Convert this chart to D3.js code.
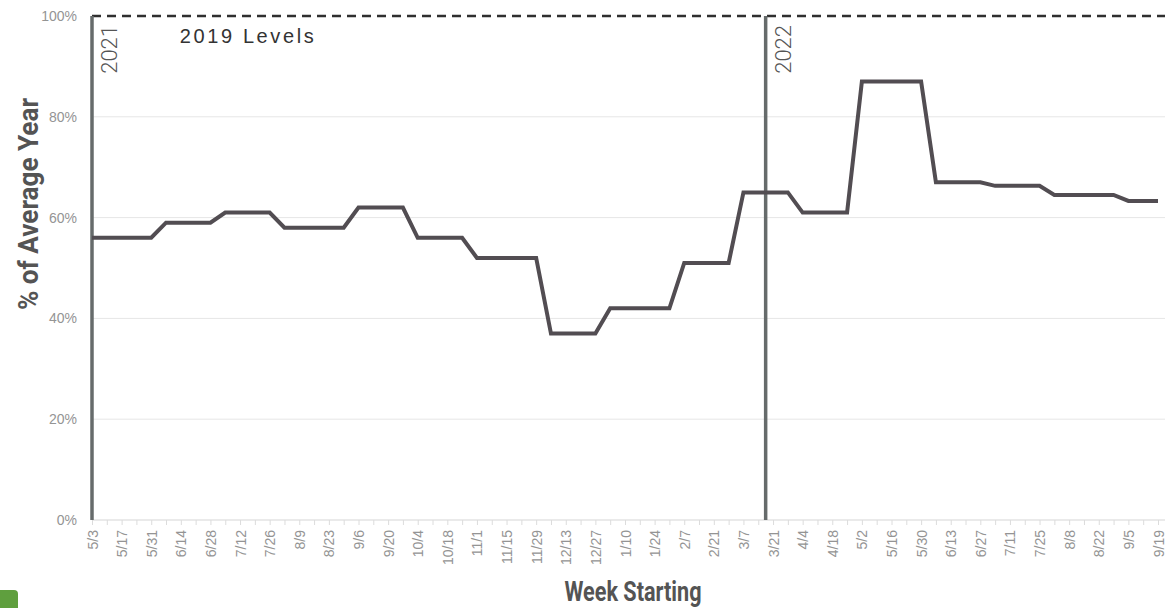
<!DOCTYPE html>
<html>
<head>
<meta charset="utf-8">
<script src="https://cdn.jsdelivr.net/npm/d3@7"></script>
<style>
  body { margin: 0; background: #fff; }
  svg { display: block; }
  .tick text { font-family: "Liberation Sans", Arial, sans-serif; fill: #949494; }
</style>
</head>
<body>
<div class="chart"></div>
<script>
// week starting dates (Mondays)
const weeks = [
  '2021-05-03','2021-05-10','2021-05-17','2021-05-24','2021-05-31','2021-06-07','2021-06-14','2021-06-21','2021-06-28',
  '2021-07-05','2021-07-12','2021-07-19','2021-07-26','2021-08-02','2021-08-09','2021-08-16','2021-08-23','2021-08-30',
  '2021-09-06','2021-09-13','2021-09-20','2021-09-27','2021-10-04','2021-10-11','2021-10-18','2021-10-25',
  '2021-11-01','2021-11-08','2021-11-15','2021-11-22','2021-11-29','2021-12-06','2021-12-13','2021-12-20','2021-12-27',
  '2022-01-03','2022-01-10','2022-01-17','2022-01-24','2022-01-31','2022-02-07','2022-02-14','2022-02-21','2022-02-28',
  '2022-03-07','2022-03-14','2022-03-21','2022-03-28','2022-04-04','2022-04-11','2022-04-18','2022-04-25',
  '2022-05-02','2022-05-09','2022-05-16','2022-05-23','2022-05-30','2022-06-06','2022-06-13','2022-06-20','2022-06-27',
  '2022-07-04','2022-07-11','2022-07-18','2022-07-25','2022-08-01','2022-08-08','2022-08-15','2022-08-22','2022-08-29',
  '2022-09-05','2022-09-12','2022-09-19'
]

// % of average year
const values = [
  56, 56, 56, 56, 56,
  59, 59, 59, 59,
  61, 61, 61, 61,
  58, 58, 58, 58, 58,
  62, 62, 62, 62,
  56, 56, 56, 56,
  52, 52, 52, 52, 52,
  37, 37, 37, 37,
  42, 42, 42, 42, 42,
  51, 51, 51, 51,
  65, 65, 65, 65,
  61, 61, 61, 61,
  87, 87, 87, 87, 87,
  67, 67, 67, 67,
  66.3, 66.3, 66.3, 66.3,
  64.5, 64.5, 64.5, 64.5, 64.5,
  63.3, 63.3, 63.3
]

const yTicks = [0, 20, 40, 60, 80, 100]
const baseline = 100
const baselineLabel = '2019 Levels'
const yearMarkers = [
  { label: '2021', date: '2021-05-03T00:00' },
  { label: '2022', date: '2022-03-17T12:00' }
]

const width = 1165
const height = 608
const margin = { top: 16, right: 7, bottom: 88, left: 92 }

const parse = d3.timeParse('%Y-%m-%d')
const parseT = d3.timeParse('%Y-%m-%dT%H:%M')
const dataset = weeks.map((w, i) => ({ date: parse(w), value: values[i] }))

const x = d3.scaleTime()
  .domain(d3.extent(dataset, d => d.date))
  .range([margin.left, width - margin.right])

const y = d3.scaleLinear()
  .domain([0, 100])
  .range([height - margin.bottom, margin.top])

const svg = d3.select('.chart')
  .append('svg')
  .attr('width', width)
  .attr('height', height)

// gridlines
svg.append('g')
  .selectAll('line')
  .data(yTicks.filter(t => t > 0 && t < 100))
  .enter()
  .append('line')
  .attr('x1', margin.left)
  .attr('x2', width)
  .attr('y1', d => y(d))
  .attr('y2', d => y(d))
  .attr('stroke', '#e6e6e6')
  .attr('stroke-width', 1)

// y axis labels
const yAxis = d3.axisLeft(y).tickValues(yTicks).tickFormat(d => d + '%').tickSize(0).tickPadding(15)
svg.append('g')
  .attr('transform', 'translate(' + margin.left + ',0)')
  .call(yAxis)
  .call(g => g.select('.domain').remove())
  .selectAll('text')
  .style('font-size', '14px')

// x axis
const fmt = d3.timeFormat('%-m/%-d')
const xAxis = d3.axisBottom(x)
  .tickValues(dataset.map(d => d.date))
  .tickFormat((d, i) => i % 2 === 0 ? fmt(d) : '')
  .tickSizeInner(5)
  .tickSizeOuter(0)

const xg = svg.append('g')
  .attr('transform', 'translate(0,' + y(0) + ')')
  .call(xAxis)
xg.select('.domain').attr('stroke', '#e3e3e3').attr('stroke-width', 1.5)
  .attr('d', 'M' + margin.left + ',0H' + width)
xg.selectAll('.tick line').attr('stroke', '#dcdcdc')
xg.selectAll('.tick text')
  .style('font-size', '14px')
  .attr('text-anchor', 'end')
  .attr('transform', 'rotate(-90)')
  .attr('x', -10)
  .attr('y', 0)
  .attr('dy', '0.36em')

// 2019 levels dashed line
svg.append('line')
  .attr('x1', margin.left)
  .attr('x2', width)
  .attr('y1', y(baseline))
  .attr('y2', y(baseline))
  .attr('stroke', '#2f2f2f')
  .attr('stroke-width', 2.5)
  .attr('stroke-dasharray', '9,6')

svg.append('text')
  .attr('x', x(parse(weeks[6])) - 1)
  .attr('y', y(baseline) + 27)
  .attr('font-family', '"Liberation Sans", Arial, sans-serif')
  .attr('font-size', '20px')
  .attr('letter-spacing', '2.6px')
  .attr('fill', '#333')
  .text(baselineLabel)

// year markers
const markers = svg.append('g')
  .selectAll('g')
  .data(yearMarkers)
  .enter()
  .append('g')

markers.append('line')
  .attr('x1', d => x(parseT(d.date)))
  .attr('x2', d => x(parseT(d.date)))
  .attr('y1', y(100))
  .attr('y2', y(0))
  .attr('stroke', '#666b6b')
  .attr('stroke-width', 3.5)

markers.append('text')
  .attr('transform', d => 'translate(' + (x(parseT(d.date)) + 25) + ',' + (y(100) + 9) + ') rotate(-90)')
  .attr('text-anchor', 'end')
  .attr('font-family', 'Roboto, "Liberation Sans", sans-serif')
  .attr('font-weight', 300)
  .attr('font-size', '22px')
  .attr('fill', '#555')
  .text(d => d.label)

// line
const line = d3.line()
  .x(d => x(d.date))
  .y(d => y(d.value))

svg.append('path')
  .datum(dataset)
  .attr('d', line)
  .attr('fill', 'none')
  .attr('stroke', '#524d52')
  .attr('stroke-width', 4)
  .attr('stroke-linejoin', 'miter')

// axis titles
svg.append('text')
  .attr('x', 633)
  .attr('y', 601)
  .attr('text-anchor', 'middle')
  .attr('font-family', 'Roboto, "DejaVu Sans", sans-serif')
  .attr('font-weight', 700)
  .attr('font-size', '27px')
  .attr('textLength', 137)
  .attr('lengthAdjust', 'spacingAndGlyphs')
  .attr('fill', '#545454')
  .text('Week Starting')

svg.append('text')
  .attr('transform', 'translate(38,' + 204 + ') rotate(-90)')
  .attr('text-anchor', 'middle')
  .attr('font-family', 'Roboto, "DejaVu Sans", sans-serif')
  .attr('font-weight', 700)
  .attr('font-size', '28px')
  .attr('textLength', 212)
  .attr('lengthAdjust', 'spacingAndGlyphs')
  .attr('fill', '#545454')
  .text('% of Average Year')

// small green tab, bottom left
svg.append('rect')
  .attr('x', -6)
  .attr('y', 590)
  .attr('width', 24)
  .attr('height', 24)
  .attr('rx', 4)
  .attr('fill', '#5f9f3e')
</script>
</body>
</html>
